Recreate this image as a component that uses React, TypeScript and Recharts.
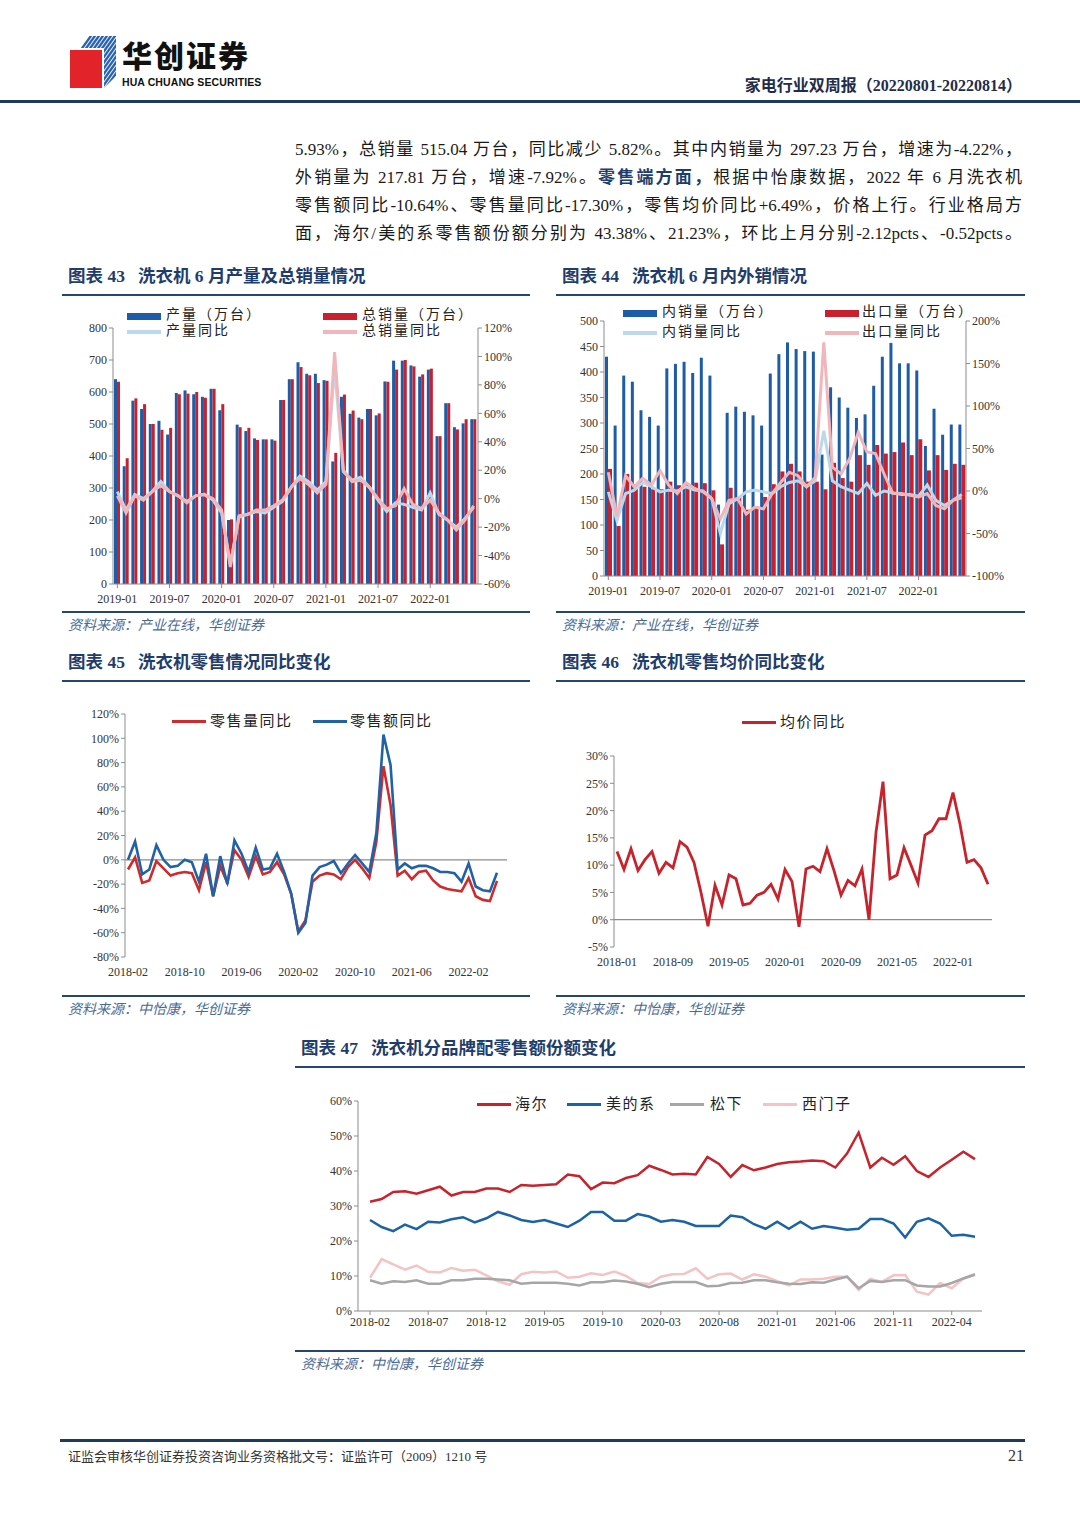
import React from "react";
import { ComposedChart, LineChart, Bar, Line, XAxis, YAxis, ReferenceLine } from "recharts";

// month labels "YYYY-MM"
function monthRange(start: string, count: number): string[] {
  const [y, m] = start.split("-").map(Number);
  const out: string[] = [];
  for (let i = 0; i < count; i++) {
    const t = m - 1 + i;
    out.push(`${y + Math.floor(t / 12)}-${String((t % 12) + 1).padStart(2, "0")}`);
  }
  return out;
}

// 图表43 产量/总销量 (万台) + 同比 (%)
const months43 = monthRange("2019-01", 42);
const prod43 = [640, 368, 573, 547, 500, 510, 467, 597, 605, 593, 585, 610, 543, 200, 498, 478, 455, 452, 452, 575, 640, 693, 657, 657, 637, 383, 585, 532, 520, 547, 527, 633, 698, 698, 683, 648, 670, 462, 565, 490, 502, 515];
const sales43 = [632, 393, 580, 562, 500, 482, 488, 593, 595, 600, 582, 610, 562, 202, 490, 488, 450, 452, 448, 575, 640, 678, 652, 628, 635, 410, 592, 542, 515, 547, 533, 632, 670, 700, 680, 655, 673, 462, 565, 483, 515, 515];
const prodYoy43 = [5, -8, 3, 0, 5, 12, 5, 2, -2, 2, 3, -1, -10, -46, -13, -11, -9, -10, -6, -2, 8, 16, 12, 6, 12, 92, 19, 13, 15, 8, -1, -9, -3, -4, -6, -8, 4, -11, -15, -20, -14, -6];
const salesYoy43 = [2, -10, 2, -1, 5, 9, 5, 2, -3, 2, 3, 0, -8, -48, -12, -11, -8, -8, -5, -1, 8, 14, 10, 4, 10, 103, 20, 12, 13, 8, 0, -7, -5, 7, -4, -7, -1, -10, -15, -22, -15, -5];

// 图表44 内销/出口
const months44 = monthRange("2019-01", 42);
const dom44 = [430, 295, 393, 381, 325, 312, 295, 407, 416, 420, 398, 428, 393, 140, 320, 332, 322, 315, 295, 397, 435, 458, 445, 441, 440, 238, 370, 350, 330, 310, 317, 373, 430, 457, 417, 417, 403, 255, 328, 277, 297, 297];
const exp44 = [210, 98, 200, 180, 175, 170, 170, 185, 178, 180, 183, 182, 168, 62, 173, 155, 130, 137, 155, 180, 205, 220, 205, 185, 185, 170, 222, 192, 185, 237, 218, 257, 240, 243, 262, 237, 268, 207, 237, 208, 220, 218];
const domYoy44 = [-1, -35, -3, 1, 10, 5, -1, 1, 0, 5, 1, 0, -9, -50, -15, -9, -1, 1, -1, -3, 5, 10, 12, 5, 12, 71, 12, 5, 1, -3, 9, -5, 0, -2, -4, -4, -6, 7, -11, -17, -11, -4];
const expYoy44 = [22, -30, 18, 5, 15, 7, 24, 7, -3, 10, 3, -1, -9, -33, -11, -9, -27, -19, -21, -3, 10, 22, 18, 5, 16, 175, 28, 20, 38, 69, 46, 44, 20, -3, -3, -5, -7, -3, -17, -21, -11, -8];

// 图表45 零售量/零售额同比
const months45 = monthRange("2018-02", 53);
const vol45 = [-8, 2, -19, -17, -1, -7, -13, -11, -10, -11, -25, -2, -30, -5, -19, 8, 0, -14, 3, -12, -10, -2, -12, -28, -59, -50, -18, -13, -11, -12, -16, -6, 0, -7, -15, 15, 77, 45, -13, -9, -16, -10, -9, -17, -22, -24, -25, -26, -15, -30, -33, -34, -17.3];
const val45 = [0, 15, -12, -8, 12, 0, -6, -5, 0, -2, -18, 5, -30, 3, -20, 16, 5, -10, 10, -8, -7, 5, -10, -28, -60, -52, -13, -6, -4, -1, -11, -3, 4, -3, -10, 22, 103, 78, -8, -3, -7, -5, -5, -7, -10, -10, -11, -18, -3, -22, -25, -26, -10.6];

// 图表46 均价同比
const months46 = monthRange("2018-01", 54);
const price46 = [12.5, 9.2, 13, 9, 11, 12.5, 8.5, 10.5, 9.5, 14.3, 13.3, 10.5, 5, -1.2, 6.3, 2.7, 8.2, 7.5, 2.7, 3, 4.5, 5, 6.5, 3.8, 9.2, 7, -1.3, 9.3, 9.8, 8.8, 13, 9, 4.5, 7.2, 6.2, 9.3, 0, 16, 25.3, 7.5, 8.2, 13.2, 10, 6.7, 15.5, 16.3, 18.5, 18.5, 23.3, 17.5, 10.5, 11, 9.5, 6.49];

// 图表47 品牌份额
const months47 = monthRange("2018-02", 53);
const haier47 = [31.2, 32, 34, 34.2, 33.5, 34.5, 35.5, 33, 34, 34, 35, 35, 34, 36, 35.8, 36, 36.2, 39, 38.5, 34.8, 36.7, 36.5, 38, 38.8, 41.5, 40.3, 39, 39.2, 39, 44, 42, 38.3, 41.7, 40.2, 41, 42, 42.5, 42.7, 43, 42.8, 41, 45, 51, 41, 43.8, 41.8, 44.2, 40, 38.3, 41, 43.2, 45.5, 43.38];
const midea47 = [26, 24, 22.8, 24.7, 23.4, 25.5, 25.3, 26.2, 26.8, 25.3, 26.5, 28.3, 27.3, 26, 25.4, 26, 25, 24, 25.8, 28.3, 28.3, 25.8, 25.8, 27.7, 27, 25.5, 26, 25.5, 24.3, 24.3, 24.3, 27.3, 26.8, 24.8, 23.5, 25.5, 23.5, 25.5, 23.5, 24.3, 23.8, 23.2, 23.5, 26.3, 26.3, 25, 21, 25.5, 26.5, 25, 21.5, 21.8, 21.23];
const panasonic47 = [8.8, 7.8, 8.5, 8.3, 8.8, 7.8, 7.8, 8.8, 8.8, 9.2, 9.2, 9, 8.8, 7.8, 8.1, 8.1, 8.1, 7.8, 7.3, 8.2, 8.2, 8.7, 8.4, 7.8, 6.8, 7.8, 8.3, 8.3, 8.3, 7.1, 7.2, 8, 8.1, 8.8, 8.8, 8.2, 7.8, 7.7, 8.2, 8.1, 9, 9.8, 6.5, 8.6, 8.3, 8.8, 8.8, 7.3, 7, 7, 8, 9.3, 10.5];
const siemens47 = [9.5, 14.8, 13.3, 11.8, 13, 11.2, 11, 12.3, 11.5, 11.8, 10.2, 8.5, 7.5, 10.5, 11.2, 11, 11.3, 9.5, 9.8, 10.8, 10.3, 11.3, 10, 8, 7.7, 9.8, 10.5, 10.6, 12.2, 9.2, 10.5, 10.7, 9, 10.5, 9.8, 8.5, 7.3, 9, 9, 9.2, 9.8, 9.8, 6, 9.2, 8.3, 10.2, 10.3, 5.5, 4.7, 8, 6.5, 9.3, 10.3];

const ticks43L = [0, 100, 200, 300, 400, 500, 600, 700, 800];
const ticks43R = [-60, -40, -20, 0, 20, 40, 60, 80, 100, 120];
const ticks44L = [0, 50, 100, 150, 200, 250, 300, 350, 400, 450, 500];
const ticks44R = [-100, -50, 0, 50, 100, 150, 200];
const ticks45 = [-80, -60, -40, -20, 0, 20, 40, 60, 80, 100, 120];
const ticks46 = [-5, 0, 5, 10, 15, 20, 25, 30];
const ticks47 = [0, 10, 20, 30, 40, 50, 60];

const data43 = months43.map((m, i) => ({ m, prod: prod43[i], sales: sales43[i], py: prodYoy43[i], sy: salesYoy43[i] }));
const data44 = months44.map((m, i) => ({ m, dom: dom44[i], exp: exp44[i], dy: domYoy44[i], ey: expYoy44[i] }));
const data45 = months45.map((m, i) => ({ m, vol: vol45[i], val: val45[i] }));
const data46 = months46.map((m, i) => ({ m, p: price46[i] }));
const data47 = months47.map((m, i) => ({ m, haier: haier47[i], midea: midea47[i], pana: panasonic47[i], siem: siemens47[i] }));

const SERIF = "'Times New Roman', 'Liberation Serif', 'Noto Sans CJK SC', serif";
const CJK = "'Liberation Serif', 'Noto Sans CJK SC', sans-serif";
const NAVY = "#27466f";
const tick = { fontSize: 12, fill: "#333", fontFamily: SERIF };
const axisLine = { stroke: "#8c8c8c" };
const pct = (v: number) => `${v}%`;

const BLUE = "#1d5ca6";
const RED = "#c8202f";
const LBLUE = "#bcd8ea";
const PINK = "#f1b6bb";

function Swatch({ x, y, color, w = 34, h = 3 }: { x: number; y: number; color: string; w?: number; h?: number }) {
  return <div style={{ position: "absolute", left: x, top: y - h / 2, width: w, height: h, background: color }} />;
}

function Label({ x, y, text, size = 14, spacing = 2 }: { x: number; y: number; text: string; size?: number; spacing?: number }) {
  return (
    <div style={{ position: "absolute", left: x, top: y - size * 0.62, fontSize: size, lineHeight: `${size * 1.2}px`, letterSpacing: spacing, color: "#222", fontFamily: CJK, whiteSpace: "nowrap" }}>
      {text}
    </div>
  );
}

function Title({ x, y, w, num, text }: { x: number; y: number; w: number; num: string; text: string }) {
  return (
    <>
      <div style={{ position: "absolute", left: x + 6, top: y - 12, fontSize: 17.5, lineHeight: "24px", fontWeight: 700, color: "#1f3d6c", fontFamily: CJK, whiteSpace: "pre" }}>
        {"图表 "}
        <span style={{ fontFamily: SERIF }}>{num}</span>
        {"   " + text}
      </div>
      <div style={{ position: "absolute", left: x, top: y + 18, width: w, height: 2, background: NAVY }} />
    </>
  );
}

function Source({ x, y, w, text }: { x: number; y: number; w: number; text: string }) {
  return (
    <>
      <div style={{ position: "absolute", left: x, top: y, width: w, height: 2, background: NAVY }} />
      <div style={{ position: "absolute", left: x + 6, top: y + 6, fontSize: 14, lineHeight: "18px", fontStyle: "italic", color: "#4a6a96", fontFamily: CJK }}>
        {text}
      </div>
    </>
  );
}

function Chart43() {
  return (
    <div style={{ position: "absolute", left: 55, top: 300, width: 460, height: 310 }}>
      <ComposedChart width={460} height={310} data={data43} margin={{ top: 28, right: 2, bottom: 4, left: 13 }} barGap={0}>
        <XAxis dataKey="m" interval={5} tick={tick} axisLine={axisLine} tickLine={axisLine} height={22} tickSize={4} tickMargin={6} />
        <YAxis yAxisId="l" domain={[0, 800]} ticks={ticks43L} tick={tick} axisLine={axisLine} tickLine={axisLine} width={45} tickSize={4} />
        <YAxis yAxisId="r" orientation="right" domain={[-60, 120]} ticks={ticks43R} tickFormatter={pct} tick={tick} axisLine={axisLine} tickLine={axisLine} width={35} tickSize={4} />
        <Bar yAxisId="l" dataKey="prod" fill={BLUE} barSize={3} isAnimationActive={false} />
        <Bar yAxisId="l" dataKey="sales" fill={RED} barSize={3} isAnimationActive={false} />
        <Line yAxisId="r" dataKey="py" type="linear" stroke={LBLUE} strokeWidth={3} dot={false} isAnimationActive={false} />
        <Line yAxisId="r" dataKey="sy" type="linear" stroke={PINK} strokeWidth={3} dot={false} isAnimationActive={false} />
      </ComposedChart>
      <Swatch x={72} y={16} color={BLUE} h={7} />
      <Label x={111} y={16} text="产量（万台）" />
      <Swatch x={72} y={32} color={LBLUE} h={4} />
      <Label x={111} y={32} text="产量同比" />
      <Swatch x={268} y={16} color={RED} h={7} />
      <Label x={307} y={16} text="总销量（万台）" />
      <Swatch x={268} y={32} color={PINK} h={4} />
      <Label x={307} y={32} text="总销量同比" />
    </div>
  );
}

function Chart44() {
  return (
    <div style={{ position: "absolute", left: 550, top: 300, width: 475, height: 310 }}>
      <ComposedChart width={475} height={310} data={data44} margin={{ top: 21, right: 9, bottom: 10, left: 10 }} barGap={0}>
        <XAxis dataKey="m" interval={5} tick={tick} axisLine={axisLine} tickLine={axisLine} height={24} tickSize={4} tickMargin={6} />
        <YAxis yAxisId="l" domain={[0, 500]} ticks={ticks44L} tick={tick} axisLine={axisLine} tickLine={axisLine} width={44} tickSize={4} />
        <YAxis yAxisId="r" orientation="right" domain={[-100, 200]} ticks={ticks44R} tickFormatter={pct} tick={tick} axisLine={axisLine} tickLine={axisLine} width={50} tickSize={4} />
        <Bar yAxisId="l" dataKey="dom" fill={BLUE} barSize={3} isAnimationActive={false} />
        <Bar yAxisId="l" dataKey="exp" fill={RED} barSize={4} isAnimationActive={false} />
        <Line yAxisId="r" dataKey="dy" type="linear" stroke={LBLUE} strokeWidth={3} dot={false} isAnimationActive={false} />
        <Line yAxisId="r" dataKey="ey" type="linear" stroke={PINK} strokeWidth={3} dot={false} isAnimationActive={false} />
      </ComposedChart>
      <Swatch x={73} y={13} color={BLUE} h={7} />
      <Label x={112} y={13} text="内销量（万台）" />
      <Swatch x={73} y={33} color={LBLUE} h={4} />
      <Label x={112} y={33} text="内销量同比" />
      <Swatch x={275} y={13} color={RED} h={7} />
      <Label x={312} y={13} text="出口量（万台）" />
      <Swatch x={275} y={33} color={PINK} h={4} />
      <Label x={312} y={33} text="出口量同比" />
    </div>
  );
}

function Chart45() {
  return (
    <div style={{ position: "absolute", left: 60, top: 700, width: 460, height: 290 }}>
      <LineChart width={460} height={290} data={data45} margin={{ top: 14, right: 13, bottom: 8, left: 15 }}>
        <XAxis dataKey="m" interval={7} tick={tick} axisLine={false} tickLine={false} height={25} tickMargin={4} padding={{ left: 3, right: 10 }} />
        <YAxis domain={[-80, 120]} ticks={ticks45} tickFormatter={pct} tick={tick} axisLine={axisLine} tickLine={axisLine} width={50} tickSize={4} />
        <ReferenceLine y={0} stroke="#8c8c8c" strokeWidth={1.2} />
        <Line dataKey="vol" type="linear" stroke="#d02a2c" strokeWidth={2.6} dot={false} isAnimationActive={false} />
        <Line dataKey="val" type="linear" stroke="#1f62a6" strokeWidth={2.6} dot={false} isAnimationActive={false} />
      </LineChart>
      <Swatch x={112} y={21} color="#d02a2c" />
      <Label x={150} y={21} text="零售量同比" size={15} spacing={1.5} />
      <Swatch x={253} y={21} color="#1f62a6" />
      <Label x={290} y={21} text="零售额同比" size={15} spacing={1.5} />
    </div>
  );
}

function Chart46() {
  return (
    <div style={{ position: "absolute", left: 555, top: 700, width: 470, height: 290 }}>
      <LineChart width={470} height={290} data={data46} margin={{ top: 56, right: 33, bottom: 18, left: 14 }}>
        <XAxis dataKey="m" interval={7} tick={tick} axisLine={false} tickLine={false} height={25} tickMargin={4} padding={{ left: 3, right: 4 }} />
        <YAxis domain={[-5, 30]} ticks={ticks46} tickFormatter={pct} tick={tick} axisLine={axisLine} tickLine={axisLine} width={45} tickSize={4} />
        <ReferenceLine y={0} stroke="#8c8c8c" strokeWidth={1.2} />
        <Line dataKey="p" type="linear" stroke="#c8232c" strokeWidth={2.8} dot={false} isAnimationActive={false} />
      </LineChart>
      <Swatch x={187} y={22} color="#c8232c" />
      <Label x={225} y={22} text="均价同比" size={15} spacing={1.5} />
    </div>
  );
}

function Chart47() {
  return (
    <div style={{ position: "absolute", left: 295, top: 1085, width: 730, height: 260 }}>
      <LineChart width={730} height={260} data={data47} margin={{ top: 16, right: 43, bottom: 8, left: 15 }}>
        <XAxis dataKey="m" interval={4} tick={tick} axisLine={axisLine} tickLine={axisLine} height={26} tickSize={4} padding={{ left: 12, right: 7 }} />
        <YAxis domain={[0, 60]} ticks={ticks47} tickFormatter={pct} tick={tick} axisLine={axisLine} tickLine={axisLine} width={48} tickSize={4} />
        <Line dataKey="siem" type="linear" stroke="#f3c3c6" strokeWidth={2.5} dot={false} isAnimationActive={false} />
        <Line dataKey="pana" type="linear" stroke="#a6a6a6" strokeWidth={2.5} dot={false} isAnimationActive={false} />
        <Line dataKey="midea" type="linear" stroke="#1b63a5" strokeWidth={2.5} dot={false} isAnimationActive={false} />
        <Line dataKey="haier" type="linear" stroke="#c8232c" strokeWidth={2.5} dot={false} isAnimationActive={false} />
      </LineChart>
      <Swatch x={182} y={19} color="#c8232c" />
      <Label x={220} y={19} text="海尔" size={15} spacing={1.5} />
      <Swatch x={272} y={19} color="#1b63a5" />
      <Label x={311} y={19} text="美的系" size={15} spacing={1.5} />
      <Swatch x={375} y={19} color="#a6a6a6" />
      <Label x={415} y={19} text="松下" size={15} spacing={1.5} />
      <Swatch x={468} y={19} color="#f3c3c6" />
      <Label x={507} y={19} text="西门子" size={15} spacing={1.5} />
    </div>
  );
}

function Logo() {
  return (
    <svg width={50} height={54} style={{ position: "absolute", left: 68, top: 36 }}>
      <defs>
        <clipPath id="blueFace">
          <polygon points="14,0 48,0 48,40 36,52 36,12 2,12" />
        </clipPath>
      </defs>
      <g clipPath="url(#blueFace)">
        {[0, 1, 2, 3, 4, 5, 6, 7, 8, 9, 10, 11, 12, 13, 14, 15].map((i) => (
          <line key={i} x1={i * 4 - 20} y1={60} x2={i * 4 + 30} y2={-10} stroke="#2a64b0" strokeWidth={2.4} />
        ))}
      </g>
      <polygon points="2,14 34,14 34,52 2,52" fill="#e2232a" />
    </svg>
  );
}

const para = [
  <>5.93%，总销量 515.04 万台，同比减少 5.82%。其中内销量为 297.23 万台，增速为-4.22%，</>,
  <>
    外销量为 217.81 万台，增速-7.92%。<b style={{ color: "#1f3d6c" }}>零售端方面，</b>根据中怡康数据，2022 年 6 月洗衣机
  </>,
  <>零售额同比-10.64%、零售量同比-17.30%，零售均价同比+6.49%，价格上行。行业格局方</>,
  <>面，海尔/美的系零售额份额分别为 43.38%、21.23%，环比上月分别-2.12pcts、-0.52pcts。</>,
];

export default function App() {
  return (
    <div style={{ position: "absolute", left: 0, top: 0, width: 1080, height: 1527, background: "#fff", overflow: "hidden", fontFamily: CJK }}>
      <Logo />
      <div style={{ position: "absolute", left: 122, top: 39, fontSize: 30, lineHeight: "30px", fontWeight: 900, color: "#111", fontFamily: "'Noto Sans CJK SC', sans-serif", letterSpacing: 2 }}>
        华创证券
      </div>
      <div style={{ position: "absolute", left: 122, top: 77, fontSize: 10.5, lineHeight: "11px", fontWeight: 700, color: "#111", fontFamily: "'Liberation Sans', sans-serif", letterSpacing: 0.1 }}>
        HUA CHUANG SECURITIES
      </div>
      <div style={{ position: "absolute", right: 58, top: 76, fontSize: 16, lineHeight: "20px", fontWeight: 700, color: "#1f2d4a", fontFamily: CJK }}>
        家电行业双周报（20220801-20220814）
      </div>
      <div style={{ position: "absolute", left: 0, top: 100, width: 1080, height: 3, background: "#1f3b5c" }} />

      {para.map((line, i) => (
        <div key={i} style={{ position: "absolute", left: 295, top: 139 + i * 28, width: 727, fontSize: 17, lineHeight: "22px", color: "#1a1a1a", textAlign: "justify", textAlignLast: "justify", whiteSpace: "nowrap", fontFamily: CJK }}>
          {line}
        </div>
      ))}

      <Title x={62} y={276} w={468} num="43" text="洗衣机 6 月产量及总销量情况" />
      <Title x={556} y={276} w={469} num="44" text="洗衣机 6 月内外销情况" />
      <Chart43 />
      <Chart44 />
      <Source x={62} y={611} w={468} text="资料来源：产业在线，华创证券" />
      <Source x={556} y={611} w={469} text="资料来源：产业在线，华创证券" />

      <Title x={62} y={662} w={468} num="45" text="洗衣机零售情况同比变化" />
      <Title x={556} y={662} w={469} num="46" text="洗衣机零售均价同比变化" />
      <Chart45 />
      <Chart46 />
      <Source x={62} y={995} w={468} text="资料来源：中怡康，华创证券" />
      <Source x={556} y={995} w={469} text="资料来源：中怡康，华创证券" />

      <Title x={295} y={1048} w={730} num="47" text="洗衣机分品牌配零售额份额变化" />
      <Chart47 />
      <Source x={295} y={1350} w={730} text="资料来源：中怡康，华创证券" />

      <div style={{ position: "absolute", left: 60, top: 1439, width: 965, height: 3, background: "#1f3b5c" }} />
      <div style={{ position: "absolute", left: 68, top: 1448, fontSize: 13, lineHeight: "18px", color: "#333", fontFamily: CJK }}>
        证监会审核华创证券投资咨询业务资格批文号：证监许可（2009）1210 号
      </div>
      <div style={{ position: "absolute", left: 1008, top: 1446, fontSize: 16, lineHeight: "20px", color: "#333", fontFamily: SERIF }}>
        21
      </div>
    </div>
  );
}
